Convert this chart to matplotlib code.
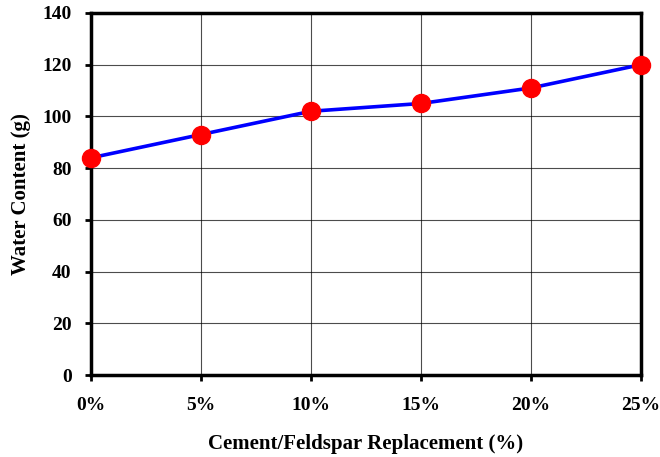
import matplotlib

matplotlib.use("Agg")
import matplotlib.pyplot as plt

# cement/feldspar replacement levels (%) and measured water content (g)
replacement = [0, 5, 10, 15, 20, 25]
water_content = [84, 93, 102, 105, 111, 120]
x_labels = ["0%", "5%", "10%", "15%", "20%", "25%"]
y_ticks = [0, 20, 40, 60, 80, 100, 120, 140]

plt.rcParams["font.family"] = ["Liberation Serif", "DejaVu Serif"]
plt.rcParams["font.weight"] = "bold"

fig = plt.figure(figsize=(6.6, 4.57), dpi=100)
ax = fig.add_axes([0.138, 0.1794, 0.833, 0.7922])

ax.plot(replacement, water_content, color="#0000ff", linewidth=2.6, zorder=3,
        clip_on=False)
ax.plot(replacement, water_content, linestyle="none", marker="o", markersize=13,
        markerfacecolor="#ff0000", markeredgecolor="#ff0000", zorder=4, clip_on=False)

ax.set_xlim(0, 25)
ax.set_ylim(0, 140)
ax.set_xticks(replacement)
ax.set_xticklabels(x_labels)
ax.set_yticks(y_ticks)
ax.grid(True, color="black", linewidth=0.8, alpha=0.7)
ax.set_axisbelow(True)

for spine in ax.spines.values():
    spine.set_linewidth(2.5)

ax.tick_params(axis="both", direction="out", length=4, width=2, labelsize=14)
ax.tick_params(axis="x", pad=12)
ax.tick_params(axis="y", pad=10)

ax.set_xlabel("Cement/Feldspar Replacement (%)", fontsize=15, fontweight="bold", labelpad=14)
ax.set_ylabel("Water Content (g)", fontsize=15, fontweight="bold", labelpad=8)

fig.savefig("out.png", dpi=100)
